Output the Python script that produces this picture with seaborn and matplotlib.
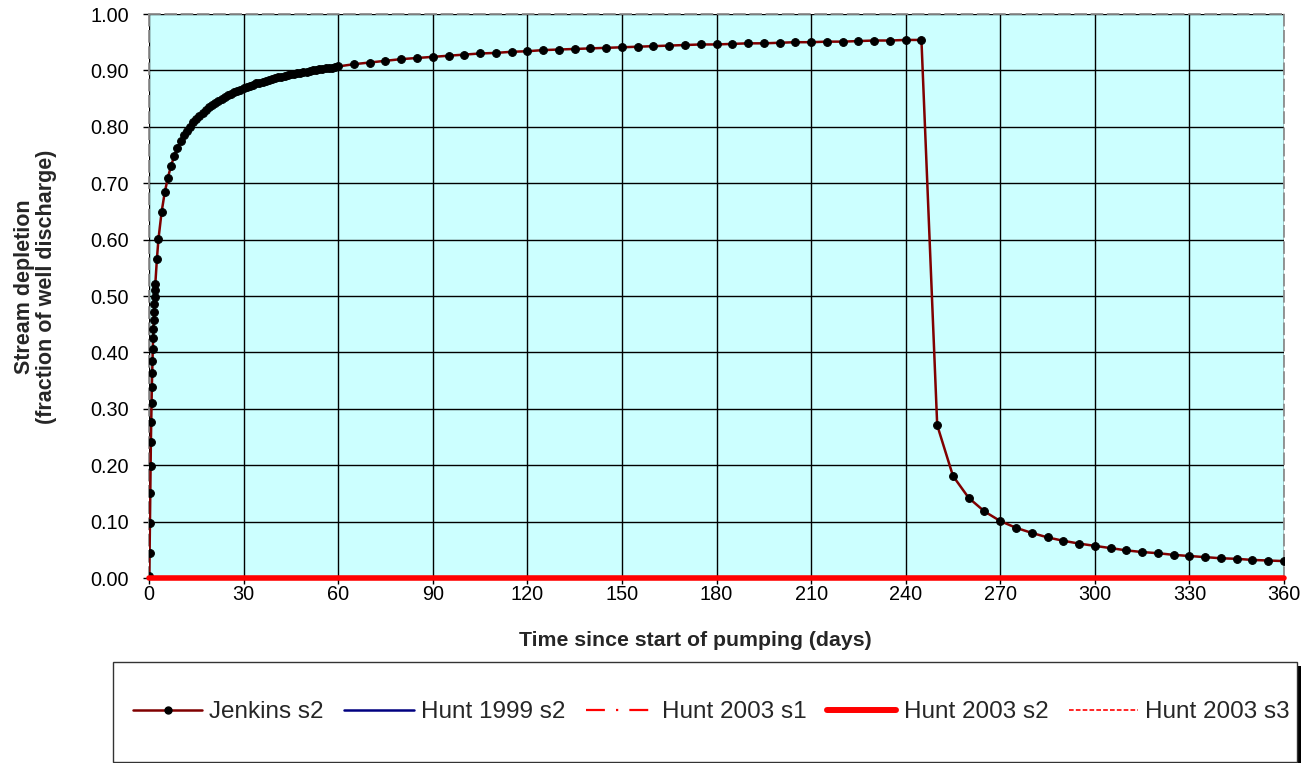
import matplotlib
matplotlib.use("Agg")
import matplotlib.pyplot as plt
from matplotlib.lines import Line2D
from matplotlib.patches import Rectangle
import seaborn as sns
import pandas as pd

# ---------------- data ----------------
days_early = [0.1, 0.2, 0.3, 0.4, 0.5, 0.6, 0.7, 0.8, 0.9, 1.0,
              1.1, 1.2, 1.3, 1.4, 1.5, 1.6, 1.7, 1.8, 1.9, 2.0, 2.5]
jenkins_early = [0.004, 0.044, 0.097, 0.150, 0.199, 0.242, 0.277, 0.310, 0.338, 0.363,
                 0.385, 0.406, 0.425, 0.441, 0.457, 0.472, 0.486, 0.499, 0.511, 0.521, 0.565]

days_daily = [3, 4, 5, 6, 7, 8, 9, 10, 11, 12, 13, 14, 15, 16, 17, 18, 19, 20,
              21, 22, 23, 24, 25, 26, 27, 28, 29, 30, 31, 32, 33, 34, 35, 36, 37, 38,
              39, 40, 41, 42, 43, 44, 45, 46, 47, 48, 49, 50, 51, 52, 53, 54, 55, 56,
              57, 58, 59, 60]
jenkins_daily = [0.601, 0.649, 0.684, 0.710, 0.731, 0.748, 0.762, 0.774, 0.785, 0.792,
                 0.800, 0.808, 0.814, 0.820, 0.825, 0.830, 0.835, 0.839, 0.843, 0.846,
                 0.850, 0.853, 0.856, 0.859, 0.861, 0.864, 0.866, 0.869, 0.871, 0.873,
                 0.875, 0.877, 0.878, 0.880, 0.882, 0.883, 0.885, 0.886, 0.888, 0.889,
                 0.890, 0.891, 0.893, 0.894, 0.895, 0.896, 0.897, 0.898, 0.899, 0.900,
                 0.901, 0.902, 0.903, 0.904, 0.905, 0.905, 0.906, 0.907]

days_pumping = [65, 70, 75, 80, 85, 90, 95, 100, 105, 110, 115, 120, 125, 130, 135,
                140, 145, 150, 155, 160, 165, 170, 175, 180, 185, 190, 195, 200, 205,
                210, 215, 220, 225, 230, 235, 240, 245]
jenkins_pumping = [0.911, 0.914, 0.917, 0.920, 0.922, 0.924, 0.926, 0.928, 0.930, 0.931,
                   0.933, 0.934, 0.936, 0.937, 0.938, 0.939, 0.940, 0.941, 0.942, 0.943,
                   0.944, 0.945, 0.946, 0.946, 0.947, 0.948, 0.948, 0.949, 0.950, 0.950,
                   0.951, 0.951, 0.952, 0.953, 0.953, 0.954, 0.954]

days_recovery = [250, 255, 260, 265, 270, 275, 280, 285, 290, 295, 300, 305, 310,
                 315, 320, 325, 330, 335, 340, 345, 350, 355, 360]
jenkins_recovery = [0.271, 0.181, 0.142, 0.118, 0.101, 0.089, 0.080, 0.072, 0.066,
                    0.061, 0.057, 0.053, 0.049, 0.046, 0.044, 0.041, 0.039, 0.037,
                    0.035, 0.034, 0.032, 0.031, 0.030]

days_hunt = [0, 60, 120, 180, 240, 245, 250, 300, 360]
hunt1999_s2 = [0.0, 0.0, 0.0, 0.0, 0.0, 0.0, 0.0, 0.0, 0.0]
hunt2003_s1 = [0.0, 0.0, 0.0, 0.0, 0.0, 0.0, 0.0, 0.0, 0.0]
hunt2003_s2 = [0.0, 0.0, 0.0, 0.0, 0.0, 0.0, 0.0, 0.0, 0.0]
hunt2003_s3 = [0.0, 0.0, 0.0, 0.0, 0.0, 0.0, 0.0, 0.0, 0.0]

x_ticks = [0, 30, 60, 90, 120, 150, 180, 210, 240, 270, 300, 330, 360]
y_ticks = [0.0, 0.1, 0.2, 0.3, 0.4, 0.5, 0.6, 0.7, 0.8, 0.9, 1.0]
series_names = ["Jenkins s2", "Hunt 1999 s2", "Hunt 2003 s1", "Hunt 2003 s2", "Hunt 2003 s3"]
x_label = "Time since start of pumping (days)"
y_label = "Stream depletion\n(fraction of well discharge)"

# ---------------- style ----------------
sns.set_theme(style="white")
plt.rcParams["font.family"] = ["Liberation Sans", "DejaVu Sans"]

W, H = 1312, 763
fig = plt.figure(figsize=(W / 100, H / 100), dpi=100)
fig.patch.set_facecolor("white")

L, R, T, B = 149, 1284, 14, 578
ax = fig.add_axes([L / W, 1 - B / H, (R - L) / W, (B - T) / H])
ax.set_facecolor("#CCFFFF")

jenkins_df = pd.DataFrame({
    "day": days_early + days_daily + days_pumping + days_recovery,
    "depletion": jenkins_early + jenkins_daily + jenkins_pumping + jenkins_recovery,
})
hunt_df = pd.DataFrame({"day": days_hunt, "h99s2": hunt1999_s2, "h03s1": hunt2003_s1,
                        "h03s2": hunt2003_s2, "h03s3": hunt2003_s3})

ax.set_axisbelow(True)
ax.grid(True, color="black", linewidth=1.0)

sns.lineplot(data=jenkins_df, x="day", y="depletion", ax=ax, estimator=None, sort=False,
             color="#800000", linewidth=1.8, marker="o", markersize=5.6,
             markerfacecolor="black", markeredgecolor="black", zorder=3)
sns.lineplot(data=hunt_df, x="day", y="h99s2", ax=ax, estimator=None, sort=False,
             color="#000080", linewidth=1.5, zorder=4, clip_on=False)
sns.lineplot(data=hunt_df, x="day", y="h03s1", ax=ax, estimator=None, sort=False,
             color="red", linewidth=1.5, dashes=(9, 5, 1, 5), zorder=4, clip_on=False)
sns.lineplot(data=hunt_df, x="day", y="h03s2", ax=ax, estimator=None, sort=False,
             color="red", linewidth=4.0, zorder=5, clip_on=False)
sns.lineplot(data=hunt_df, x="day", y="h03s3", ax=ax, estimator=None, sort=False,
             color="red", linewidth=1.2, dashes=(3, 1.5), zorder=6, clip_on=False)

ax.set_xlim(0, 360)
ax.set_ylim(0, 1.0)
ax.set_xticks(x_ticks)
ax.set_xticklabels([str(v) for v in x_ticks])
ax.set_yticks(y_ticks)
ax.set_yticklabels([f"{v:.2f}" for v in y_ticks])
ax.tick_params(axis="both", which="major", direction="out", length=4, width=1,
               color="black", labelsize=14.3, labelcolor="black")
ax.tick_params(axis="x", pad=1.0)
ax.tick_params(axis="y", pad=10.5)
ax.xaxis.set_ticks_position("bottom")
ax.yaxis.set_ticks_position("left")

for side in ["top", "right", "left"]:
    ax.spines[side].set_visible(True)
    ax.spines[side].set_color("#8c8c8c")
    ax.spines[side].set_linestyle((0, (6, 3)))
    ax.spines[side].set_linewidth(1.3)
ax.spines["bottom"].set_color("black")
ax.spines["bottom"].set_linewidth(1.0)

ax.set_xlabel(x_label, fontsize=15.3, fontweight="bold")
ax.xaxis.set_label_coords(0.481, -0.094)
ax.set_ylabel(y_label, fontsize=15.5, fontweight="bold", linespacing=1.05)
ax.yaxis.set_label_coords(-0.081, 0.517)

# legend box with shadow
lx0, ly0, lx1, ly1 = 113, 662, 1297, 762
fig.patches.append(Rectangle(((lx0 + 4) / W, 1 - (ly1 + 4) / H), (lx1 - lx0) / W,
                             (ly1 - ly0) / H, transform=fig.transFigure,
                             facecolor="black", edgecolor="none", zorder=1))
fig.patches.append(Rectangle((lx0 / W, 1 - ly1 / H), (lx1 - lx0) / W,
                             (ly1 - ly0) / H, transform=fig.transFigure,
                             facecolor="white", edgecolor="#333333", linewidth=1.0,
                             zorder=2))

handles = [
    Line2D([], [], color="#800000", linewidth=1.8, marker="o", markersize=5,
           markerfacecolor="black", markeredgecolor="black"),
    Line2D([], [], color="#000080", linewidth=1.8),
    Line2D([], [], color="red", linewidth=1.6, dashes=(8.5, 5, 1, 5)),
    Line2D([], [], color="red", linewidth=4.3, solid_capstyle="round"),
    Line2D([], [], color="red", linewidth=1.2, dashes=(2.8, 1.3)),
]
leg = fig.legend(handles, series_names, loc="center left",
                 bbox_to_anchor=(133 / W, 1 - 712 / H),
                 ncol=5, fontsize=17.5, frameon=False,
                 handlelength=2.84, handletextpad=0.29, columnspacing=0.86,
                 borderaxespad=0, borderpad=0)
leg.set_zorder(3)

fig.savefig("out.png", dpi=100, facecolor="white")
